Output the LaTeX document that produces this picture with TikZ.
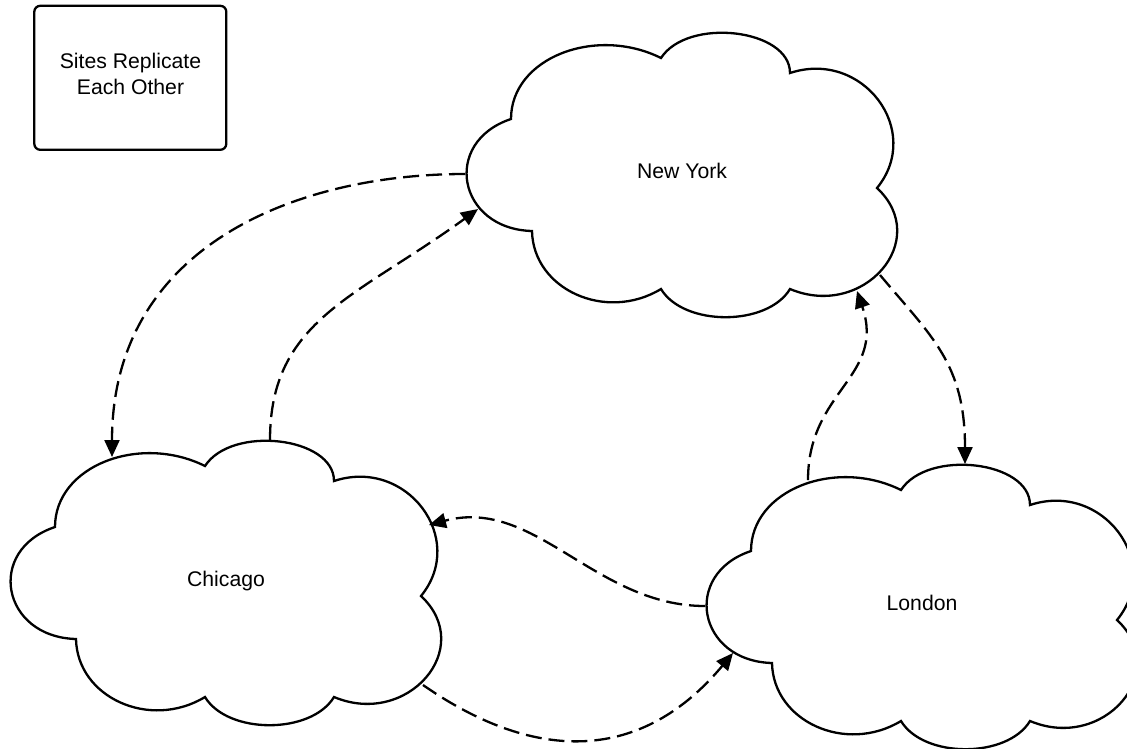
\documentclass[tikz,border=0pt]{standalone}
\usepackage{fontspec}
\setmainfont{Liberation Sans}
\usetikzlibrary{arrows.meta}

\tikzset{
  x=1pt, y=-1pt,
  cloud line/.style={draw=black, line width=2.3pt, fill=white, line join=miter},
  site label/.style={font=\fontsize{21.2}{25.3}\selectfont, inner sep=0pt},
  link/.style={line width=2.3pt, dash pattern=on 16pt off 7pt,
    -{Triangle[length=17pt,width=15pt]}},
  legend box/.style={draw=black, line width=2.3pt, rounded corners=6pt,
    minimum width=192pt, minimum height=144pt, inner sep=0pt},
  % a seven-lobed cloud, 428 x 284, origin at its top-left corner
  sitecloud/.pic={
    \path[cloud line] (66,198)
      .. controls +(-74.4,-2) and +(-69.7,23.2) .. (45,86)
      .. controls +(0,-61.3) and +(-65.3,-32.5) .. (195,25)
      .. controls +(26.6,-41.1) and +(0,-44.2) .. (324,40)
      .. controls +(72.4,-24) and +(46.9,-57.5) .. (411,155)
      .. controls +(55.6,51.9) and +(73.6,30.9) .. (324,256)
      .. controls +(-22.7,37.6) and +(22.7,37.6) .. (195,256)
      .. controls +(-55.2,33.4) and +(1.2,58.4) .. (66,198) -- cycle;
    \node[site label, anchor=base] (-name) at (216,145) {#1};
  }
}

\begin{document}
\begin{tikzpicture}
  \useasboundingbox (0,0) rectangle (1127,748);

  % legend
  \node[legend box] (legend) at (130.3,77.8) {};
  \node[site label, align=center] (legend-text) at (130.5,74) {Sites Replicate\\Each Other};

  % sites
  \pic (ny)  at (466,33)  {sitecloud={New York}};
  \pic (chi) at (10,441)  {sitecloud={Chicago}};
  \pic (lon) at (706,465) {sitecloud={London}};

  % connector ends on the cloud outlines
  \coordinate (ny-w)   at (465,174);
  \coordinate (ny-sw)  at (478,209);
  \coordinate (ny-se)  at (880,275);
  \coordinate (ny-s)   at (857,291);
  \coordinate (chi-nw) at (112,457);
  \coordinate (chi-n)  at (270,440);
  \coordinate (chi-e)  at (429,525);
  \coordinate (chi-se) at (423,685);
  \coordinate (lon-n)  at (965,464);
  \coordinate (lon-nw) at (808,480);
  \coordinate (lon-w)  at (705,606);
  \coordinate (lon-sw) at (733,653);

  % replication links
  \draw[link] (ny-w)   .. controls +(-170,0) and +(0,-210)    .. (chi-nw);
  \draw[link] (chi-n)  .. controls +(0,-120) and +(-121.5,88.5) .. (ny-sw);
  \draw[link] (ny-se)  .. controls +(52,62)  and +(0,-100)    .. (lon-n);
  \draw[link] (lon-nw) .. controls +(0,-90)  and +(29,86)     .. (ny-s);
  \draw[link] (lon-w)  .. controls +(-110,0) and +(106,-28.5) .. (chi-e);
  \draw[link] (chi-se) .. controls +(115,80) and +(-90,108)   .. (lon-sw);
\end{tikzpicture}
\end{document}
